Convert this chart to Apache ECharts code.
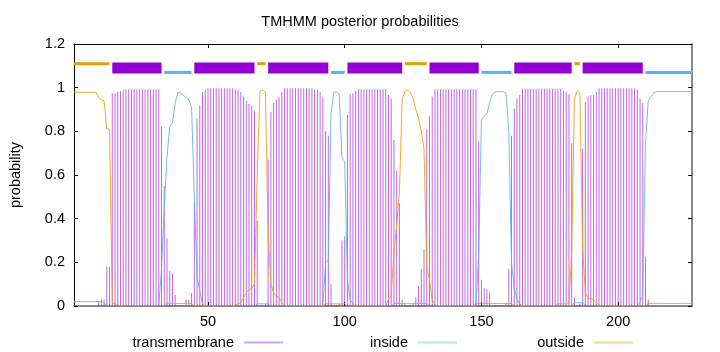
<!DOCTYPE html>
<html>
<head>
<meta charset="utf-8">
<script src="https://cdn.jsdelivr.net/npm/echarts@6/dist/echarts.min.js"></script>
<style>
  html, body { margin: 0; padding: 0; background: #fff; }
  #chart { width: 720px; height: 352px; }
</style>
</head>
<body>
<div id="chart"></div>
<script>
// posterior probability per residue, residue 1..227
var tmProb = [
  0, 0, 0, 0, 0, 0, 0, 0, 0, 0.02,
  0.03, 0.03, 0.18, 0.18, 0.975, 0.975, 0.98, 0.985, 0.99, 0.993,
  0.993, 0.993, 0.993, 0.993, 0.993, 0.993, 0.993, 0.993, 0.993, 0.993,
  0.993, 0.993, 0.82, 0.55, 0.31, 0.16, 0.15, 0.05, 0.005, 0.005,
  0.005, 0.03, 0.03, 0.06, 0.48, 0.86, 0.92, 0.98, 0.99, 0.997,
  0.997, 0.997, 0.997, 0.997, 0.997, 0.997, 0.997, 0.997, 0.997, 0.993,
  0.99, 0.98, 0.96, 0.94, 0.925, 0.92, 0.895, 0.39, 0, 0,
  0.01, 0.67, 0.89, 0.93, 0.945, 0.955, 0.98, 0.997, 0.997, 0.997,
  0.997, 0.997, 0.997, 0.997, 0.997, 0.997, 0.997, 0.997, 0.993, 0.99,
  0.98, 0.96, 0.8, 0.78, 0.1, 0.005, 0.005, 0.01, 0.3, 0.32,
  0.875, 0.97, 0.975, 0.985, 0.993, 0.993, 0.993, 0.993, 0.993, 0.993,
  0.993, 0.993, 0.993, 0.993, 0.993, 0.966, 0.95, 0.76, 0.62, 0.47,
  0.03, 0.01, 0.005, 0.005, 0.01, 0.04, 0.09, 0.17, 0.26, 0.81,
  0.87, 0.96, 0.993, 0.993, 0.993, 0.993, 0.993, 0.993, 0.993, 0.993,
  0.993, 0.993, 0.993, 0.993, 0.993, 0.993, 0.993, 0.993, 0.755, 0.12,
  0.08, 0.076, 0.065, 0.005, 0.005, 0.005, 0.005, 0.005, 0.01, 0.17,
  0.78, 0.905, 0.95, 0.966, 0.995, 0.995, 0.995, 0.995, 0.995, 0.995,
  0.995, 0.995, 0.995, 0.995, 0.995, 0.995, 0.995, 0.995, 0.995, 0.985,
  0.98, 0.97, 0.745, 0.04, 0.005, 0.01, 0.72, 0.936, 0.96, 0.965,
  0.966, 0.98, 0.997, 0.997, 0.997, 0.997, 0.997, 0.997, 0.997, 0.997,
  0.997, 0.997, 0.997, 0.997, 0.997, 0.997, 0.99, 0.95, 0.93, 0.226,
  0.03, 0, 0, 0, 0, 0, 0, 0, 0, 0,
  0, 0, 0, 0, 0, 0, 0
];
var insideProb = [
  0.02, 0.02, 0.02, 0.02, 0.02, 0.02, 0.02, 0.02, 0.02, 0.02,
  0.02, 0.015, 0, 0, 0, 0, 0, 0, 0, 0,
  0, 0, 0, 0, 0, 0, 0, 0, 0, 0,
  0, 0, 0.17, 0.45, 0.68, 0.82, 0.84, 0.93, 0.98, 0.975,
  0.965, 0.955, 0.945, 0.91, 0.5, 0.13, 0.07, 0.01, 0, 0,
  0, 0, 0, 0, 0, 0, 0, 0, 0, 0,
  0, 0, 0, 0, 0, 0, 0, 0.01, 0.01, 0.01,
  0.01, 0.01, 0, 0, 0, 0, 0, 0, 0, 0,
  0, 0, 0, 0, 0, 0, 0, 0, 0, 0,
  0, 0, 0.2, 0.21, 0.88, 0.98, 0.98, 0.97, 0.68, 0.66,
  0.12, 0.03, 0.01, 0, 0, 0, 0, 0, 0, 0,
  0, 0, 0, 0, 0, 0, 0, 0.012, 0.012, 0.012,
  0.012, 0.012, 0.012, 0.012, 0.012, 0.012, 0.012, 0.012, 0.012, 0.012,
  0, 0, 0, 0, 0, 0, 0, 0, 0, 0,
  0, 0, 0, 0, 0, 0, 0, 0, 0.24, 0.85,
  0.87, 0.88, 0.93, 0.97, 0.98, 0.982, 0.982, 0.982, 0.975, 0.8,
  0.2, 0.08, 0.03, 0.01, 0, 0, 0, 0, 0, 0,
  0, 0, 0, 0, 0, 0, 0, 0, 0, 0,
  0, 0, 0, 0.015, 0.015, 0.015, 0.015, 0, 0, 0,
  0, 0, 0, 0, 0, 0, 0, 0, 0, 0,
  0, 0, 0, 0, 0, 0, 0, 0.02, 0.05, 0.75,
  0.94, 0.96, 0.975, 0.982, 0.982, 0.982, 0.982, 0.982, 0.982, 0.982,
  0.982, 0.982, 0.982, 0.982, 0.982, 0.982, 0.982
];
var outsideProb = [
  0.979, 0.979, 0.979, 0.979, 0.979, 0.979, 0.979, 0.979, 0.979, 0.955,
  0.945, 0.94, 0.81, 0.81, 0.015, 0.01, 0.005, 0, 0, 0,
  0, 0, 0, 0, 0, 0, 0, 0, 0, 0,
  0, 0, 0, 0, 0.012, 0.012, 0.012, 0.012, 0.012, 0.012,
  0.012, 0.012, 0.012, 0.012, 0, 0, 0, 0, 0, 0,
  0, 0, 0, 0, 0, 0, 0, 0, 0, 0.005,
  0.01, 0.015, 0.04, 0.06, 0.075, 0.08, 0.1, 0.6, 0.985, 0.99,
  0.98, 0.33, 0.1, 0.06, 0.045, 0.04, 0.015, 0.005, 0, 0,
  0, 0, 0, 0, 0, 0, 0, 0, 0, 0,
  0, 0, 0.01, 0.01, 0.01, 0.01, 0.01, 0.01, 0.01, 0.01,
  0, 0, 0, 0, 0, 0, 0, 0, 0, 0,
  0, 0, 0, 0, 0, 0.03, 0.05, 0.24, 0.37, 0.52,
  0.95, 0.98, 0.99, 0.98, 0.95, 0.9, 0.86, 0.8, 0.72, 0.18,
  0.12, 0.03, 0.005, 0, 0, 0, 0, 0, 0, 0,
  0, 0, 0, 0, 0, 0, 0, 0.012, 0.012, 0.012,
  0.012, 0.012, 0.012, 0.012, 0.012, 0.012, 0.012, 0.012, 0.012, 0.012,
  0.012, 0, 0, 0, 0, 0, 0, 0, 0, 0,
  0, 0, 0, 0, 0, 0, 0, 0.01, 0.01, 0.01,
  0.01, 0.01, 0.25, 0.95, 0.985, 0.975, 0.27, 0.06, 0.035, 0.033,
  0.03, 0.015, 0.005, 0, 0, 0, 0, 0, 0, 0,
  0, 0, 0, 0, 0, 0, 0, 0, 0, 0,
  0.012, 0.012, 0.012, 0.012, 0.012, 0.012, 0.012, 0.012, 0.012, 0.012,
  0.012, 0.012, 0.012, 0.012, 0.012, 0.012, 0.012
];

// predicted topology (start, end residue)
var outsideSegs = [[1, 14], [68, 71], [122, 130], [184, 186]];
var tmSegs = [[15, 33], [45, 67], [72, 94], [101, 121], [131, 149], [162, 183], [187, 209]];
var insideSegs = [[34, 44], [95, 100], [150, 161], [210, 227]];

var xTicks = [50, 100, 150, 200];

var FONT = 'Liberation Sans';
var FS = 14.5;
var PURPLE = '#9400d3', CYAN = '#56b4e9', ORANGE = '#e69f00';
var TM_LINE = 'rgba(148,0,211,0.6)';
var IN_LINE = 'rgba(86,180,233,0.85)';
var OUT_LINE = 'rgba(230,159,0,0.85)';

function pairs (arr) {
  return arr.map(function (v, i) { return [i + 1, v]; });
}

// draws topology bar at a fixed probability level
function segSeries (name, segs, level, h, color) {
  return {
    name: name,
    type: 'custom',
    z: 5,
    silent: true,
    encode: { x: [0, 1] },
    data: segs,
    renderItem: function (params, api) {
      var a = api.coord([api.value(0), level]);
      var b = api.coord([api.value(1), level]);
      return {
        type: 'rect',
        shape: { x: a[0], y: a[1] - h / 2, width: b[0] - a[0], height: h },
        style: { fill: color }
      };
    }
  };
}

function legendFor (name, color, right) {
  return {
    orient: 'horizontal',
    top: 330,
    right: right,
    align: 'right',
    icon: 'rect',
    itemWidth: 39,
    itemHeight: 2,
    selectedMode: false,
    textStyle: { fontFamily: FONT, fontSize: FS, color: '#000', padding: [0, 5, 0, 0] },
    data: [{ name: name, icon: 'rect', itemStyle: { color: color } }]
  };
}

var chart = echarts.init(document.getElementById('chart'), null, { renderer: 'canvas' });

chart.setOption({
  animation: false,
  backgroundColor: '#fff',
  title: {
    text: 'TMHMM posterior probabilities',
    left: 'center',
    top: 9,
    textStyle: { fontFamily: FONT, fontSize: FS, fontWeight: 'normal', color: '#000' }
  },
  legend: [
    legendFor('transmembrane', 'rgba(148,0,211,0.38)', 432),
    legendFor('inside', 'rgba(86,180,233,0.42)', 258),
    legendFor('outside', 'rgba(230,159,0,0.42)', 82)
  ],
  grid: { left: 73, right: 28, top: 44, bottom: 46 },
  xAxis: [{
    type: 'value',
    min: 1,
    max: 227,
    axisLine: { onZero: false, lineStyle: { color: '#888', width: 2 } },
    axisTick: { inside: true, length: 4, customValues: xTicks, lineStyle: { color: '#000' } },
    axisLabel: { customValues: xTicks, margin: 8, fontFamily: FONT, fontSize: FS, color: '#000' },
    splitLine: { show: false }
  }, {
    type: 'value',
    position: 'top',
    min: 1,
    max: 227,
    axisLine: { onZero: false, lineStyle: { color: '#000', width: 1 } },
    axisTick: { inside: true, length: 4, customValues: xTicks, lineStyle: { color: '#000' } },
    axisLabel: { show: false },
    splitLine: { show: false }
  }],
  yAxis: [{
    type: 'value',
    min: 0,
    max: 1.2,
    interval: 0.2,
    name: 'probability',
    nameLocation: 'middle',
    nameGap: 51,
    nameTextStyle: { fontFamily: FONT, fontSize: FS, color: '#000' },
    axisLine: { show: true, onZero: false, lineStyle: { color: '#000', width: 1 } },
    axisTick: { show: true, inside: true, length: 4, lineStyle: { color: '#000' } },
    axisLabel: { margin: 9, fontFamily: FONT, fontSize: FS, color: '#000' },
    splitLine: { show: false }
  }, {
    type: 'value',
    position: 'right',
    min: 0,
    max: 1.2,
    interval: 0.2,
    axisLine: { show: true, onZero: false, lineStyle: { color: '#888', width: 2 } },
    axisTick: { show: true, inside: true, length: 4, lineStyle: { color: '#000' } },
    axisLabel: { show: false },
    splitLine: { show: false }
  }],
  series: [
    {
      name: 'transmembrane',
      type: 'bar',
      barWidth: 1,
      z: 1,
      silent: true,
      itemStyle: { color: TM_LINE },
      data: pairs(tmProb)
    },
    {
      name: 'inside',
      type: 'line',
      z: 2,
      silent: true,
      showSymbol: false,
      itemStyle: { color: IN_LINE },
      lineStyle: { width: 1, color: IN_LINE },
      data: pairs(insideProb)
    },
    {
      name: 'outside',
      type: 'line',
      z: 3,
      silent: true,
      showSymbol: false,
      itemStyle: { color: OUT_LINE },
      lineStyle: { width: 1, color: OUT_LINE },
      data: pairs(outsideProb)
    },
    segSeries('outside-bar', outsideSegs, 1.11, 3, ORANGE),
    segSeries('tm-bar', tmSegs, 1.09, 11, PURPLE),
    segSeries('inside-bar', insideSegs, 1.07, 3, CYAN)
  ]
});
</script>
</body>
</html>
